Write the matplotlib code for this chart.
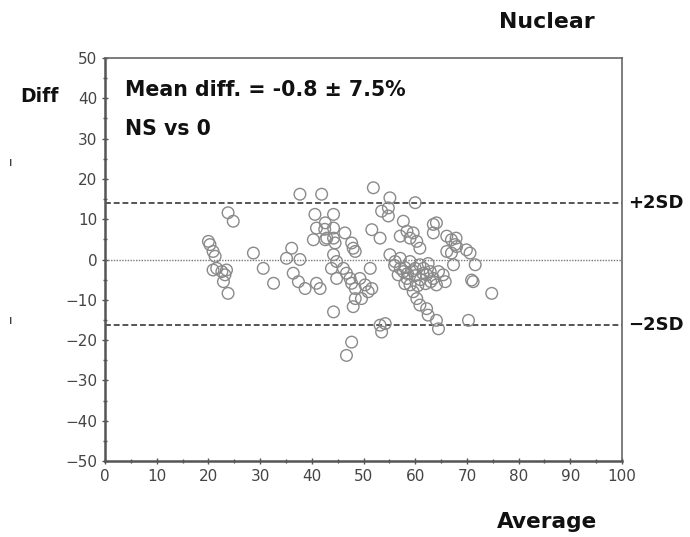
import matplotlib
matplotlib.use('Agg')
import numpy as np
import matplotlib.pyplot as plt
from matplotlib.ticker import MultipleLocator

# ------------------------------------------------------------
# Bland-Altman data
# ------------------------------------------------------------
avg = [
    20.0, 20.3, 20.9, 21.3, 21.6, 20.9, 22.6, 23.5, 23.2, 22.9, 23.8, 23.8, 24.8,
    28.7, 30.6, 32.6, 35.1, 36.1, 37.7, 36.4, 37.4, 38.7, 37.7,
    40.6, 40.9, 40.3, 41.9, 40.9, 41.6, 42.5, 42.9,
    44.2, 42.6, 44.2, 42.6, 44.2, 44.5, 46.4, 47.7, 48.0, 48.4,
    44.2, 44.8, 43.8, 44.8, 46.1,
    46.7, 47.4, 47.7, 48.4, 49.3, 50.3, 51.3, 50.9, 51.6, 48.4, 49.6,
    48.0, 44.2, 47.7, 46.7,
    51.9, 55.1, 60.0,
    51.6, 53.2, 53.5, 54.8, 54.8, 57.7,
    57.1, 58.4, 59.0, 59.6, 60.3, 60.9,
    55.1, 56.1, 57.1, 56.7, 57.7, 58.4, 59.0, 59.6, 60.3, 60.9, 62.2, 62.5,
    57.1, 59.0, 60.0, 60.9, 61.6, 62.2, 62.9, 63.5, 64.1, 64.5, 65.4, 65.8,
    64.1, 63.5, 63.5,
    66.1, 67.0, 67.9, 67.7, 66.1, 67.4, 68.0, 67.0,
    69.9, 70.6, 71.6, 71.2, 74.8, 70.3, 70.9,
    53.2, 54.2, 53.5, 64.1, 64.5,
    56.0, 58.0, 58.5, 60.0, 61.0, 62.0, 61.5, 63.0, 62.5, 59.5, 60.5, 58.0,
]
diff = [
    4.5, 3.7, 2.0, 0.8, -2.2, -2.6, -3.0, -2.6, -3.8, -5.5, -8.4, 11.6, 9.5,
    1.6, -2.2, -5.9, 0.3, 2.8, 0.0, -3.4, -5.5, -7.2, 16.2,
    11.2, 7.8, 4.9, 16.2, -5.9, -7.2, 7.5, 5.3,
    11.2, 9.1, 7.8, 4.9, 5.3, 4.1, 6.6, 4.1, 2.8, 2.0,
    1.2, -0.5, -2.2, -4.7, -2.2,
    -3.4, -4.7, -5.9, -7.2, -4.7, -6.3, -2.2, -8.0, -7.2, -9.7, -9.7,
    -11.7, -13.0, -20.5, -23.8,
    17.8, 15.3, 14.1,
    7.4, 5.3, 12.0, 10.8, 12.8, 9.5,
    5.8, 7.0, 5.3, 6.6, 4.5, 2.8,
    1.2, -0.5, -2.2, -3.8, -3.0, -4.7, -6.3, -8.0, -9.7, -11.3, -12.2, -13.8,
    0.3, -0.5, -2.2, -1.3, -2.2, -3.8, -3.0, -4.7, -6.3, -3.0, -3.8, -5.5,
    9.1, 6.6, 8.7,
    5.8, 4.9, 5.3, 3.7, 2.0, -1.3, 3.2, 1.6,
    2.4, 1.6, -1.3, -5.5, -8.4, -15.1, -5.1,
    -16.3, -15.9, -18.0, -15.1, -17.2,
    -1.5, -2.0, -3.5, -4.0, -5.0, -6.0, -3.5, -5.5, -1.0, -2.8, -6.5, -6.0,
]

upper_sd = 14.0
lower_sd = -16.2
zero_ref = 0.0

# ------------------------------------------------------------
# Figure
# ------------------------------------------------------------
fig = plt.figure(figsize=(6.9, 5.37), dpi=100)
ax = fig.add_axes([0.1522, 0.1415, 0.7493, 0.7505])

ax.scatter(avg, diff, s=70, facecolors="none", edgecolors="#8a8a8a",
           linewidths=1.0, zorder=3)

ax.axhline(upper_sd, color="#555555", linestyle=(0, (3, 1.5)), linewidth=1.4, zorder=2)
ax.axhline(lower_sd, color="#555555", linestyle=(0, (3, 1.5)), linewidth=1.4, zorder=2)
ax.axhline(zero_ref, color="#777777", linestyle=(0, (1, 1)), linewidth=1.0, zorder=2)

ax.set_xlim(0, 100)
ax.set_ylim(-50, 50)
ax.xaxis.set_major_locator(MultipleLocator(10))
ax.xaxis.set_minor_locator(MultipleLocator(5))
ax.yaxis.set_major_locator(MultipleLocator(10))
ax.yaxis.set_minor_locator(MultipleLocator(5))
ax.tick_params(which="major", direction="inout", length=5, width=1.0,
               color="#555555", labelsize=11, labelcolor="#444444", pad=3)
ax.tick_params(which="minor", direction="inout", length=3, width=1.0, color="#555555")

for side in ["top", "right"]:
    ax.spines[side].set_color("#666666")
    ax.spines[side].set_linewidth(1.2)
for side in ["left", "bottom"]:
    ax.spines[side].set_color("#555555")
    ax.spines[side].set_linewidth(1.8)

# annotations
ax.text(3.8, 42, "Mean diff. = -0.8 \u00b1 7.5%", fontsize=14.8, fontweight="bold",
        color="#111111", va="center", ha="left")
ax.text(3.8, 32.5, "NS vs 0", fontsize=14.8, fontweight="bold",
        color="#111111", va="center", ha="left")

ax.text(101.2, upper_sd, "+2SD", fontsize=13, fontweight="bold",
        color="#111111", va="center", ha="left", clip_on=False)
ax.text(101.2, lower_sd, "\u22122SD", fontsize=13, fontweight="bold",
        color="#111111", va="center", ha="left", clip_on=False)

fig.text(20 / 690, 1 - 97 / 537, "Diff", fontsize=13.5, fontweight="bold",
         color="#111111", va="center", ha="left")
fig.text(499 / 690, 1 - 22 / 537, "Nuclear", fontsize=15.8, fontweight="bold",
         color="#111111", va="center", ha="left")
fig.text(497 / 690, 1 - 522 / 537, "Average", fontsize=15.6, fontweight="bold",
         color="#111111", va="center", ha="left")

# clipped glyph remnants at the left edge
fig.text(9 / 690, 1 - 162 / 537, "\u0131", fontsize=9, color="#222222", va="center")
fig.text(9 / 690, 1 - 320 / 537, "\u0131", fontsize=9, color="#222222", va="center")

fig.savefig("out.png", dpi=100)
